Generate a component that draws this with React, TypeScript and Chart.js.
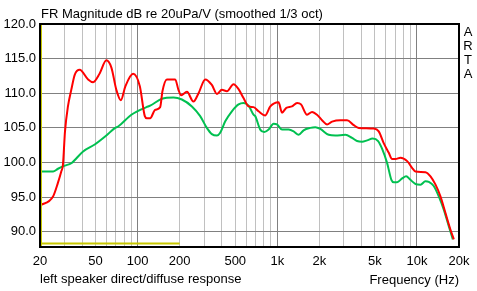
import React, { useEffect, useRef } from "react";
import { Chart, registerables } from "chart.js";

Chart.register(...registerables);

const TITLE = "FR Magnitude dB re 20uPa/V (smoothed 1/3 oct)";
const CAPTION = "left speaker direct/diffuse response";
const X_TITLE = "Frequency (Hz)";
const BRAND = ["A", "R", "T", "A"];

const redHz = [20, 24.8, 26.9, 28.4, 29.2, 30.2, 31.7, 33.5, 35.5, 38.5, 44.2, 48, 53.6, 59.7, 64.9, 70.4, 75.8, 81.7, 92.8, 103.7, 112.6, 116.4, 123, 133.4, 145, 150.6, 161.9, 185.8, 196, 205, 225.5, 251, 273, 305, 340, 370, 401, 436, 486, 528, 573, 623, 676, 734, 820, 891, 1021, 1081, 1160, 1274, 1385, 1479, 1633, 1774, 1925, 2090, 2270, 2466, 2830, 3160, 3525, 3830, 4900, 5325, 5780, 6285, 6640, 7015, 7620, 8510, 9250, 9760, 11500, 12500, 13580, 14730, 16000, 17380, 18360];
const redDb = [93.8, 95.1, 97.1, 98.7, 99.7, 104.5, 108.1, 110.5, 112.7, 113.4, 112.0, 111.6, 112.9, 114.75, 113.7, 110.5, 109.0, 111.0, 112.8, 111.0, 106.7, 106.4, 106.4, 107.6, 108.0, 110.3, 112.0, 112.0, 110.5, 109.7, 110.2, 108.8, 110.0, 112.0, 111.2, 109.9, 110.5, 110.3, 111.3, 110.6, 109.3, 108.1, 108.0, 107.4, 106.8, 108.1, 108.7, 107.2, 107.9, 108.1, 108.6, 108.4, 106.9, 107.3, 106.9, 106.1, 105.5, 105.9, 106.1, 106.1, 105.4, 105.0, 104.9, 104.5, 102.8, 101.4, 100.5, 100.5, 100.7, 100.2, 99.2, 98.7, 98.6, 98.0, 96.8, 95.1, 92.7, 90.3, 88.9];

const greenHz = [20, 24.8, 26.9, 30.1, 33.5, 40.7, 49.3, 59.7, 69, 72.5, 90.2, 115.6, 123, 149, 180.6, 207.4, 244.7, 280.5, 313, 340, 370, 390, 424, 473, 528, 573, 623, 676, 695, 755, 807, 867, 940, 995, 1081, 1205, 1309, 1422, 1543, 1723, 1871, 2033, 2333, 2606, 3070, 3430, 3725, 4050, 4400, 4820, 5270, 5625, 6110, 6560, 6820, 7210, 7830, 8370, 8980, 9760, 10600, 11500, 12160, 13190, 14330, 15560, 16900, 18070];
const greenDb = [98.7, 98.7, 99.1, 99.55, 99.9, 101.6, 102.6, 103.9, 105.0, 105.2, 106.9, 108.0, 108.2, 109.2, 109.4, 109.1, 108.1, 106.7, 105.0, 104.1, 103.9, 104.3, 105.95, 107.4, 108.4, 108.6, 108.2, 106.9, 106.7, 104.75, 104.4, 104.75, 105.6, 105.5, 104.75, 104.75, 104.5, 104.0, 104.65, 105.0, 105.1, 104.85, 104.0, 103.9, 104.0, 103.55, 103.1, 103.0, 103.2, 103.45, 103.1, 102.0, 99.95, 97.5, 97.15, 97.15, 97.7, 98.0, 97.5, 96.9, 96.8, 97.3, 97.2, 96.6, 95.1, 93.2, 90.8, 88.9];

const yellowHz = [20, 200];
const yellowDb = [88.3, 88.3];

const xGridHz = [20, 30, 40, 50, 60, 70, 80, 90, 100, 200, 300, 400, 500, 600, 700, 800, 900, 1000, 2000, 3000, 4000, 5000, 6000, 7000, 8000, 9000, 10000, 20000];
const xLabelHz = [20, 50, 100, 200, 500, 1000, 2000, 5000, 10000, 20000];
const xLabelText = ["20", "50", "100", "200", "500", "1k", "2k", "5k", "10k", "20k"];
const xMajorHz = [100, 1000, 10000];
const yTicks = [90, 95, 100, 105, 110, 115, 120];

const FONT = '"Liberation Sans", Arial, sans-serif';

const toPoints = (xs: number[], ys: number[]) => xs.map((x, i) => ({ x, y: ys[i] }));

const framePlugin = {
  id: "frame",
  afterDraw(chart: any) {
    const { ctx, chartArea: a } = chart;
    ctx.save();
    ctx.strokeStyle = "#000";
    ctx.lineWidth = 2;
    ctx.strokeRect(a.left, a.top, a.right - a.left, a.bottom - a.top);
    ctx.strokeStyle = "#c8c800";
    ctx.lineWidth = 1;
    ctx.beginPath();
    ctx.moveTo(a.left + 1.5, a.top + 1);
    ctx.lineTo(a.left + 1.5, a.bottom - 1);
    ctx.stroke();
    ctx.restore();
  },
};

export default function App() {
  const ref = useRef<HTMLCanvasElement>(null);

  useEffect(() => {
    const chart = new Chart(ref.current as HTMLCanvasElement, {
      type: "line",
      data: {
        datasets: [
          {
            data: toPoints(redHz, redDb),
            borderColor: "#ff0000",
            borderWidth: 2,
            pointRadius: 0,
            cubicInterpolationMode: "monotone",
          },
          {
            data: toPoints(greenHz, greenDb),
            borderColor: "#00c050",
            borderWidth: 2,
            pointRadius: 0,
            cubicInterpolationMode: "monotone",
          },
          {
            data: toPoints(yellowHz, yellowDb),
            borderColor: "#c8c800",
            borderWidth: 2,
            pointRadius: 0,
          },
        ],
      },
      options: {
        animation: false,
        responsive: true,
        maintainAspectRatio: false,
        layout: { padding: { left: 0, top: 24, right: 18, bottom: 0 } },
        plugins: { legend: { display: false }, tooltip: { enabled: false }, title: { display: false } },
        scales: {
          x: {
            type: "logarithmic",
            min: 20,
            max: 20000,
            border: { display: false },
            afterBuildTicks: (scale: any) => {
              scale.ticks = xGridHz.map((v) => ({ value: v }));
            },
            afterFit: (scale: any) => {
              scale.height = 44;
            },
            grid: {
              drawTicks: false,
              lineWidth: 1,
              color: (ctx: any) => (xMajorHz.includes(ctx.tick?.value) ? "#808080" : "#c0c0c0"),
            },
            ticks: {
              autoSkip: false,
              maxRotation: 0,
              padding: 7,
              color: "#000",
              font: { family: FONT, size: 13 },
              callback: (v: any) => {
                const i = xLabelHz.indexOf(Number(v));
                return i >= 0 ? xLabelText[i] : "";
              },
            },
          },
          y: {
            type: "linear",
            min: 87.8,
            max: 120,
            border: { display: false },
            afterBuildTicks: (scale: any) => {
              scale.ticks = yTicks.map((v) => ({ value: v }));
            },
            afterFit: (scale: any) => {
              scale.width = 40;
            },
            grid: { drawTicks: false, color: "#808080", lineWidth: 1 },
            ticks: {
              padding: 4,
              color: "#000",
              font: { family: FONT, size: 13 },
              callback: (v: any) => Number(v).toFixed(1),
            },
          },
        },
      },
      plugins: [framePlugin],
    } as any);
    return () => chart.destroy();
  }, []);

  const text: React.CSSProperties = {
    position: "absolute",
    fontFamily: FONT,
    fontSize: 13,
    lineHeight: "15px",
    color: "#000",
    whiteSpace: "nowrap",
  };

  return (
    <div style={{ position: "fixed", left: 0, top: 0, width: 477, height: 291, background: "#fff" }}>
      <div style={{ position: "absolute", left: 0, top: 0, width: 477, height: 291 }}>
        <canvas ref={ref} />
      </div>
      <div style={{ ...text, left: 41, top: 6 }}>{TITLE}</div>
      <div style={{ ...text, left: 462, top: 25, width: 12, textAlign: "center", lineHeight: "14.1px" }}>
        {BRAND.map((c, i) => (
          <div key={i}>{c}</div>
        ))}
      </div>
      <div style={{ ...text, left: 40, top: 271 }}>{CAPTION}</div>
      <div style={{ ...text, right: 477 - 459, top: 272 }}>{X_TITLE}</div>
    </div>
  );
}
